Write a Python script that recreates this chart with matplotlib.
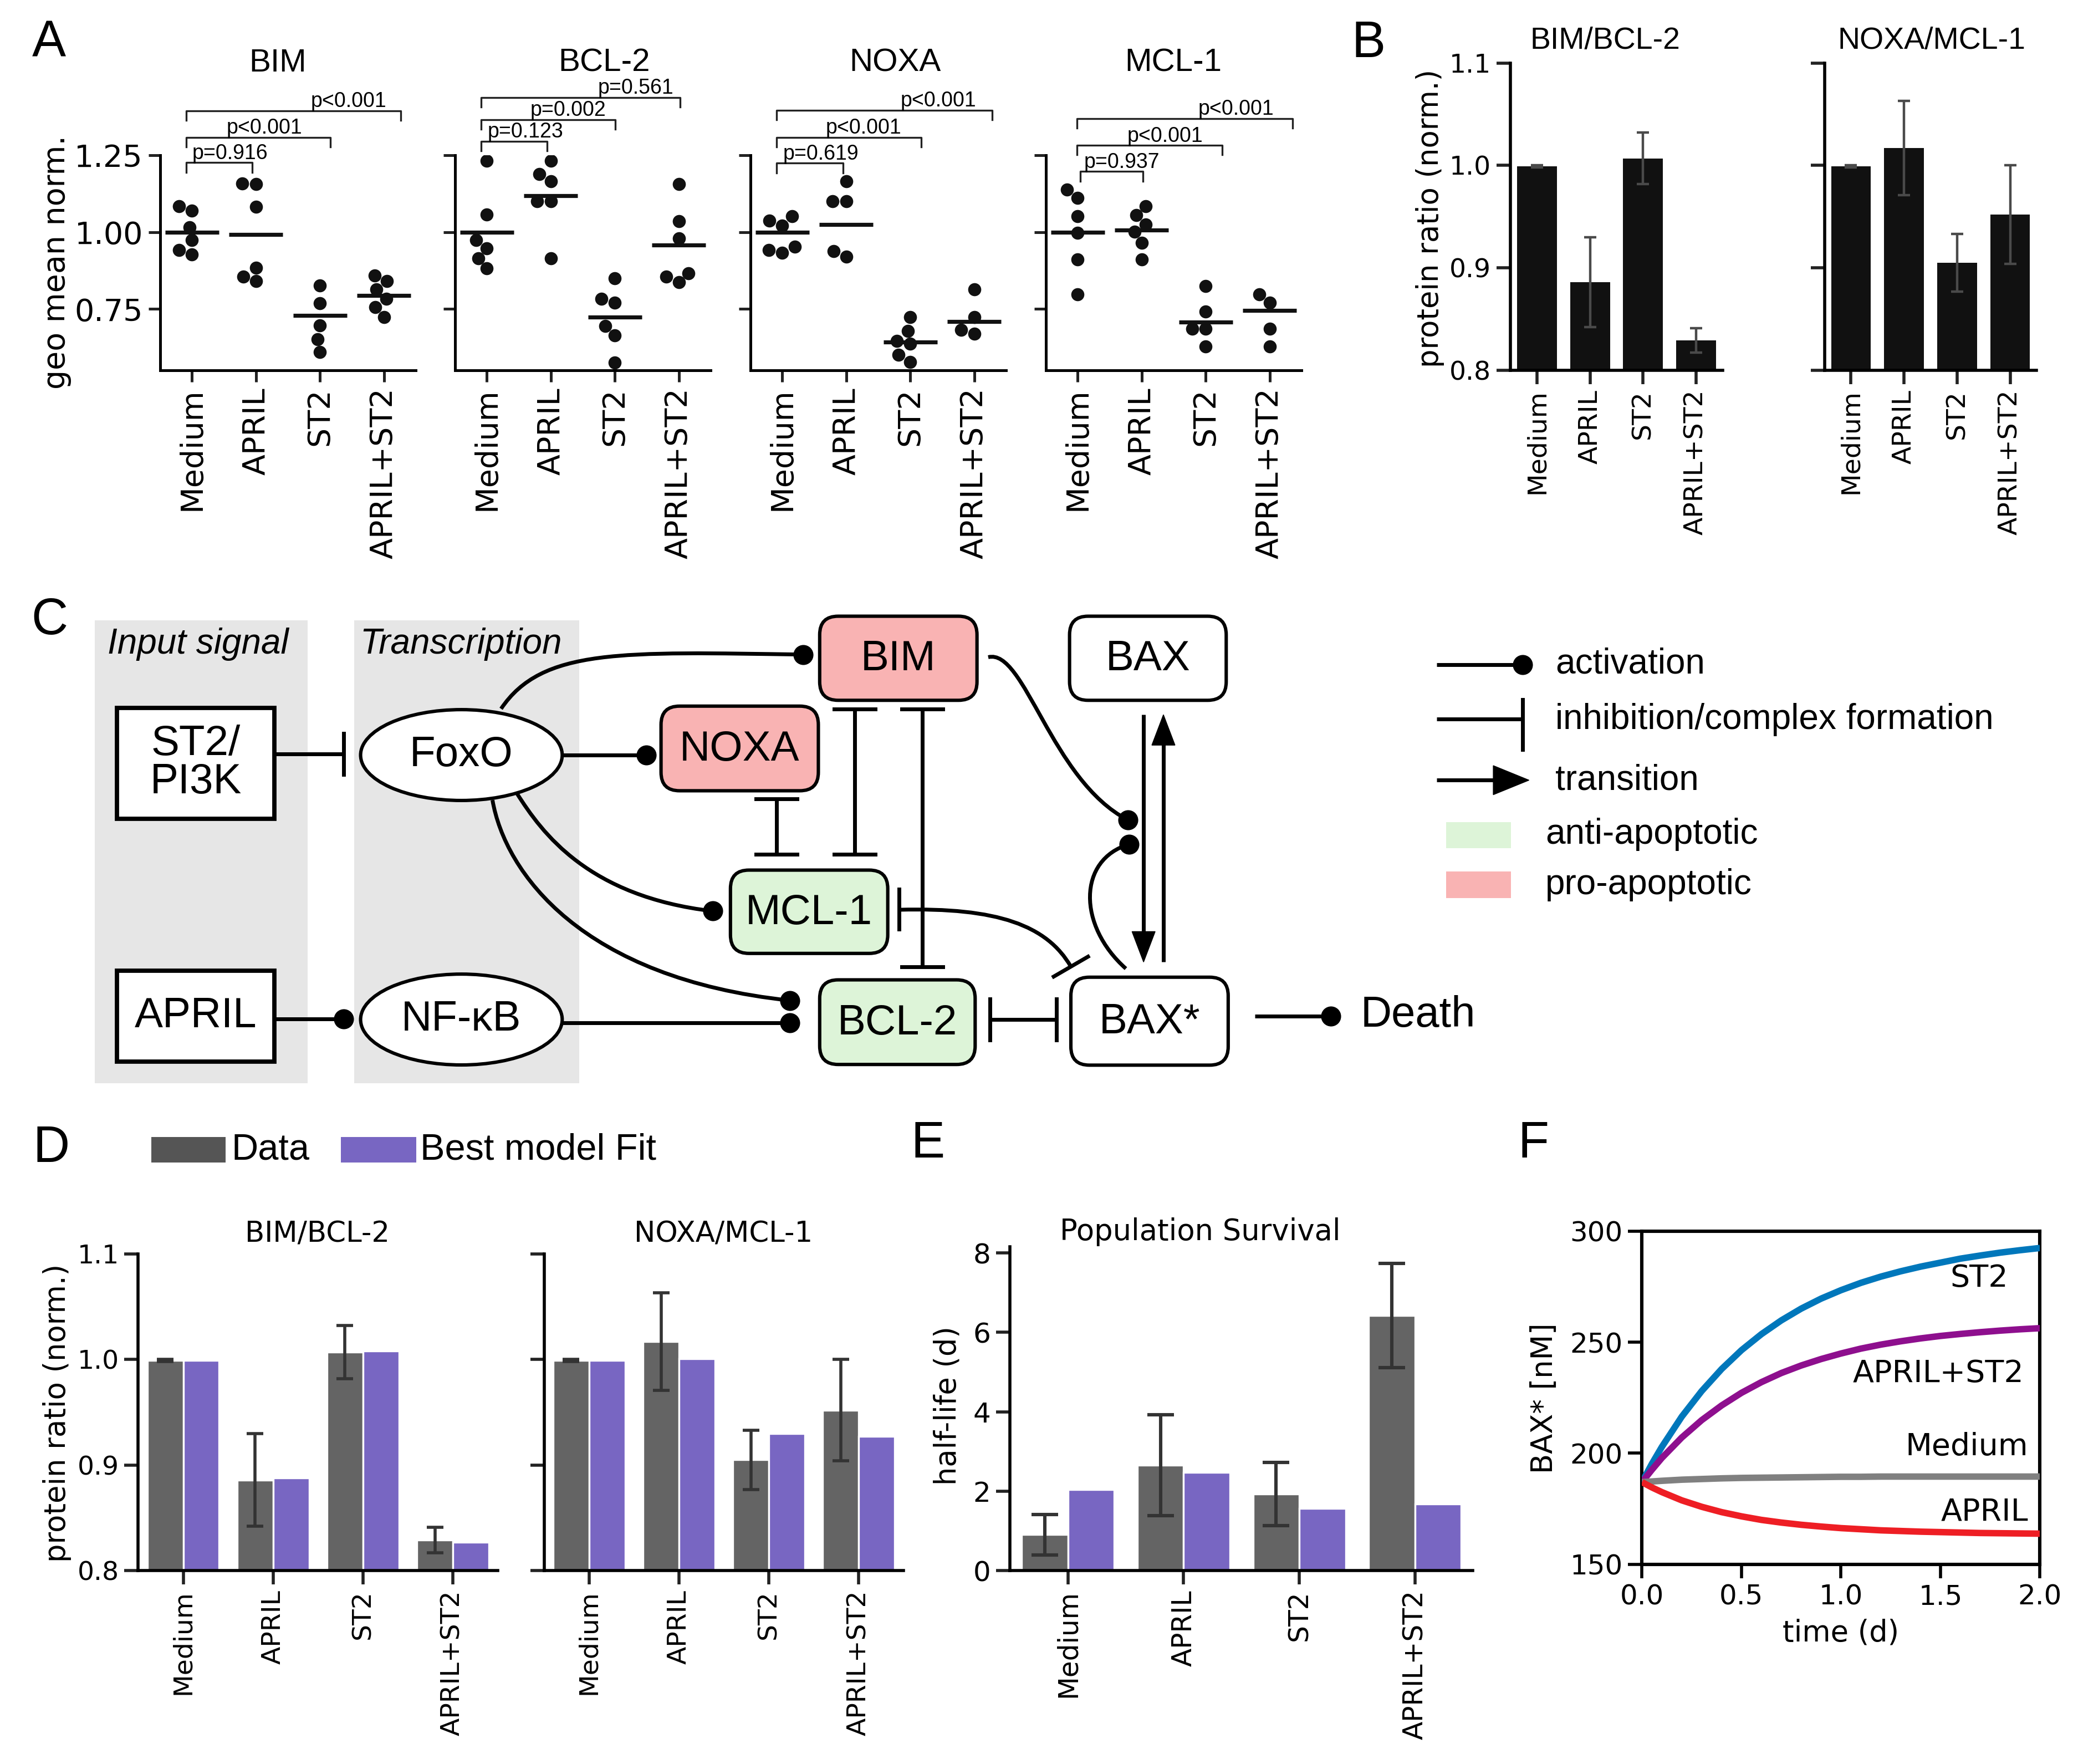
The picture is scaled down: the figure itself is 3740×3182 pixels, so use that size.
import numpy as np
import pandas as pd
import matplotlib
matplotlib.use("Agg")
import matplotlib.pyplot as plt
import seaborn as sns
from matplotlib.patches import Rectangle, FancyBboxPatch, Ellipse, Polygon, PathPatch
from matplotlib.path import Path

plt.rcParams['font.family'] = ['DejaVu Sans']
ARIAL = ['Liberation Sans', 'DejaVu Sans']

# ---------------- data ----------------
conditions = ["Medium", "APRIL", "ST2", "APRIL+ST2"]

# Panel A: geo mean (normalised) per replicate, and the drawn means
bim_points = [[1.085, 1.070, 1.016, 0.974, 0.942, 0.927],
              [1.159, 1.156, 1.083, 0.885, 0.855, 0.840],
              [0.826, 0.768, 0.697, 0.652, 0.610],
              [0.858, 0.840, 0.813, 0.783, 0.757, 0.724]]
bim_means = [1.000, 0.993, 0.730, 0.794]
bcl2_points = [[1.232, 1.058, 0.974, 0.947, 0.915, 0.882],
               [1.232, 1.189, 1.165, 1.100, 1.100, 0.915],
               [0.849, 0.783, 0.771, 0.694, 0.664, 0.575],
               [1.156, 1.035, 0.980, 0.867, 0.855, 0.837]]
bcl2_means = [1.000, 1.118, 0.723, 0.958]
noxa_points = [[1.052, 1.037, 1.022, 0.952, 0.942, 0.933],
               [1.165, 1.100, 1.100, 0.939, 0.921],
               [0.724, 0.679, 0.646, 0.637, 0.601, 0.578],
               [0.813, 0.724, 0.682, 0.670]]
noxa_means = [1.000, 1.025, 0.642, 0.710]
mcl1_points = [[1.138, 1.112, 1.052, 0.998, 0.912, 0.798],
               [1.085, 1.055, 1.025, 1.001, 0.965, 0.912],
               [0.825, 0.742, 0.685, 0.685, 0.628],
               [0.798, 0.770, 0.685, 0.628]]
mcl1_means = [1.000, 1.006, 0.708, 0.746]
a_proteins = ["BIM", "BCL-2", "NOXA", "MCL-1"]
bim_pvals = ["p=0.916", "p<0.001", "p<0.001"]
bcl2_pvals = ["p=0.123", "p=0.002", "p=0.561"]
noxa_pvals = ["p=0.619", "p<0.001", "p<0.001"]
mcl1_pvals = ["p=0.937", "p<0.001", "p<0.001"]

# Panels B / D: protein ratios
ratio_bim_bcl2 = [0.999, 0.886, 1.007, 0.829]
ratio_bim_bcl2_err = [0.001, 0.044, 0.025, 0.012]
ratio_noxa_mcl1 = [0.999, 1.017, 0.905, 0.952]
ratio_noxa_mcl1_err = [0.001, 0.046, 0.028, 0.048]
fit_bim_bcl2 = [0.999, 0.888, 1.008, 0.827]
fit_noxa_mcl1 = [0.999, 1.001, 0.930, 0.927]

# Panel E: population half-life (d)
halflife_data = [0.91, 2.65, 1.93, 6.42]
halflife_err = [0.51, 1.27, 0.79, 1.31]
halflife_fit = [2.04, 2.47, 1.57, 1.68]

# Panel F: BAX* trajectories
time_d = [0.0, 0.05, 0.1, 0.2, 0.3, 0.4, 0.5, 0.6, 0.7, 0.8, 0.9, 1.0,
          1.1, 1.2, 1.3, 1.4, 1.5, 1.6, 1.7, 1.8, 1.9, 2.0]
bax_st2 = [187.0, 195.3, 202.9, 216.5, 228.0, 237.9, 246.4, 253.6, 259.8, 265.1, 269.6, 273.4,
           276.7, 279.5, 281.9, 284.0, 285.8, 287.6, 289.0, 290.3, 291.4, 292.4]
bax_april_st2 = [187.0, 192.6, 197.9, 207.1, 214.9, 221.5, 227.2, 232.0, 236.1, 239.5, 242.4, 244.9,
                 247.1, 248.9, 250.4, 251.7, 252.8, 253.7, 254.5, 255.2, 255.8, 256.3]
bax_medium = [187.0, 187.3, 187.6, 188.1, 188.4, 188.7, 188.9, 189.0, 189.1, 189.2, 189.3, 189.4,
              189.4, 189.5, 189.5, 189.5, 189.5, 189.5, 189.5, 189.5, 189.5, 189.5]
bax_april = [187.0, 184.6, 182.5, 178.8, 175.9, 173.5, 171.6, 170.0, 168.8, 167.8, 167.0, 166.3,
             165.8, 165.3, 165.0, 164.7, 164.5, 164.3, 164.1, 164.0, 163.9, 163.8]

DATA_C = "#646464"
FIT_C = "#7866C2"

# ---------------- figure ----------------
W, H = 1568.0, 1334.0
fig = plt.figure(figsize=(18.7, 15.91), dpi=200)

ov = fig.add_axes([0, 0, 1, 1])
ov.set_xlim(0, W)
ov.set_ylim(H, 0)
ov.axis('off')


def rect(l, t, r, b):
    return [l / W, 1 - b / H, (r - l) / W, (b - t) / H]


def style(ax, lw=1.8, length=7.5, size=17):
    ax.set_facecolor('none')
    for s in ['top', 'right']:
        ax.spines[s].set_visible(False)
    for s in ['left', 'bottom']:
        ax.spines[s].set_linewidth(lw)
    ax.tick_params(direction='out', length=length, width=lw, labelsize=size, color='#222222')


# ---------------- panel A ----------------
a_sets = [(bim_points, bim_means, bim_pvals), (bcl2_points, bcl2_means, bcl2_pvals),
          (noxa_points, noxa_means, noxa_pvals), (mcl1_points, mcl1_means, mcl1_pvals)]
a_lefts = [121, 344, 567.5, 791]
a_title_x = [0.461, 0.584, 0.566, 0.498]
a_brackets = [  # tops, left, rights, text x
    ([1.226, 1.308, 1.395], [-0.09, -0.09, -0.09], [0.94, 2.16, 3.26], [0.00, 0.54, 1.86]),
    ([1.295, 1.366, 1.438], [-0.09, -0.09, -0.09], [0.94, 2.01, 3.02], [0.01, 0.68, 1.74]),
    ([1.224, 1.308, 1.396], [-0.09, -0.09, -0.09], [0.95, 2.17, 3.28], [0.01, 0.68, 1.85]),
    ([1.197, 1.282, 1.369], [0.04, -0.01, -0.01], [1.02, 2.26, 3.36], [0.10, 0.77, 1.88]),
]
for i, (pts, means, pv) in enumerate(a_sets):
    ax = fig.add_axes(rect(a_lefts[i], 117.4, a_lefts[i] + 193.6, 280.2))
    df = pd.DataFrame({'cond': np.repeat(conditions, [len(p) for p in pts]),
                       'val': np.concatenate(pts)})
    sns.swarmplot(data=df, x='cond', y='val', order=conditions, color='#111111',
                  size=8.5, ax=ax, zorder=3)
    xs = np.arange(len(conditions))
    ax.hlines(means, xs - 0.42, xs + 0.42, color='#111111', lw=2.6, zorder=4)
    ax.set_xlim(-0.5, 3.5)
    ax.set_ylim(0.55, 1.25)
    ax.set_xlabel('')
    ax.set_ylabel('')
    style(ax, lw=1.8, length=7.5, size=20)
    ax.set_yticks([0.75, 1.0, 1.25])
    if i == 0:
        ax.set_yticklabels(['0.75', '1.00', '1.25'])
        ax.text(-0.405, 0.502, 'geo mean norm.', rotation=90, ha='center', va='center',
                fontsize=20, transform=ax.transAxes)
    else:
        ax.set_yticklabels([])
    ax.set_xticks(xs)
    ax.set_xticklabels(conditions, rotation=90)
    ax.text(a_title_x[i], 1.428, a_proteins[i], ha='center', va='center', fontsize=21,
            family=ARIAL, transform=ax.transAxes)
    tops, lefts, rights, txs = a_brackets[i]
    for k in range(3):
        t = tops[k]
        ax.plot([lefts[k], lefts[k], rights[k], rights[k]], [t - 0.031, t, t, t - 0.031],
                color='#222222', lw=1.2, clip_on=False)
        ax.text(txs[k], t + 0.012, pv[k], ha='left', va='baseline', fontsize=13.5,
                family=ARIAL, clip_on=False)

# ---------------- panel B ----------------
b_sets = [(ratio_bim_bcl2, ratio_bim_bcl2_err, "BIM/BCL-2", 0.445),
          (ratio_noxa_mcl1, ratio_noxa_mcl1_err, "NOXA/MCL-1", 0.506)]
b_lefts = [1142.5, 1380]
for i, (vals, err, title, tx) in enumerate(b_sets):
    ax = fig.add_axes(rect(b_lefts[i], 47.7, b_lefts[i] + 160.5, 280))
    xs = np.arange(len(conditions))
    ax.bar(xs, vals, width=0.75, color='#111111', zorder=2)
    ax.errorbar(xs, vals, yerr=err, fmt='none', ecolor='#4a4a4a', elinewidth=1.6,
                capsize=4, capthick=1.6, zorder=3)
    ax.set_xlim(-0.5, 3.5)
    ax.set_ylim(0.8, 1.1)
    style(ax, lw=2.0, length=9, size=17)
    ax.set_yticks([0.8, 0.9, 1.0, 1.1])
    if i == 0:
        ax.set_yticklabels(['0.8', '0.9', '1.0', '1.1'])
        ax.text(-0.38, 0.495, 'protein ratio (norm.)', rotation=90, ha='center',
                va='center', fontsize=19, transform=ax.transAxes)
    else:
        ax.set_yticklabels([])
    ax.set_xticks(xs)
    ax.set_xticklabels(conditions, rotation=90)
    ax.text(tx, 1.072, title, ha='center', va='center', fontsize=20, family=ARIAL,
            transform=ax.transAxes)

# ---------------- panel D ----------------
d_sets = [(ratio_bim_bcl2, ratio_bim_bcl2_err, fit_bim_bcl2, "BIM/BCL-2"),
          (ratio_noxa_mcl1, ratio_noxa_mcl1_err, fit_noxa_mcl1, "NOXA/MCL-1")]
d_lefts = [104.6, 411.6]
for i, (vals, err, fit, title) in enumerate(d_sets):
    ax = fig.add_axes(rect(d_lefts[i], 948.3, d_lefts[i] + 271.9, 1187.8))
    xs = np.arange(len(conditions))
    ax.bar(xs - 0.2, vals, width=0.4, color=DATA_C, edgecolor='white', lw=1.2, zorder=2)
    ax.bar(xs + 0.2, fit, width=0.4, color=FIT_C, edgecolor='white', lw=1.2, zorder=2)
    ax.errorbar(xs - 0.2, vals, yerr=err, fmt='none', ecolor='#333333', elinewidth=2.0,
                capsize=5.5, capthick=2.0, zorder=3)
    ax.set_xlim(-0.5, 3.5)
    ax.set_ylim(0.8, 1.1)
    style(ax, lw=2.0, length=9, size=17)
    ax.set_yticks([0.8, 0.9, 1.0, 1.1])
    if i == 0:
        ax.set_yticklabels(['0.8', '0.9', '1.0', '1.1'])
        ax.text(-0.2266, 0.498, 'protein ratio (norm.)', rotation=90, ha='center',
                va='center', fontsize=19, transform=ax.transAxes)
    else:
        ax.set_yticklabels([])
    ax.set_xticks(xs)
    ax.set_xticklabels(conditions, rotation=90)
    ax.text(0.498, 1.062, title, ha='center', va='center', fontsize=18.5,
            transform=ax.transAxes)

# ---------------- panel E ----------------
ax = fig.add_axes(rect(764, 943, 1114, 1187.8))
xs = np.arange(len(conditions))
ax.bar(xs - 0.2, halflife_data, width=0.4, color=DATA_C, edgecolor='white', lw=1.2, zorder=2)
ax.bar(xs + 0.2, halflife_fit, width=0.4, color=FIT_C, edgecolor='white', lw=1.2, zorder=2)
ax.errorbar(xs - 0.2, halflife_data, yerr=halflife_err, fmt='none', ecolor='#333333',
            elinewidth=2.2, capsize=8.5, capthick=2.2, zorder=3)
ax.set_xlim(-0.5, 3.5)
ax.set_ylim(0, 8.15)
style(ax, lw=2.0, length=9, size=18)
ax.set_yticks([0, 2, 4, 6, 8])
ax.set_xticks(xs)
ax.set_xticklabels(conditions, rotation=90, fontsize=17.5)
ax.text(-0.135, 0.51, 'half-life (d)', rotation=90, ha='center', va='center',
        fontsize=19, transform=ax.transAxes)
ax.text(0.411, 1.046, 'Population Survival', ha='center', va='center', fontsize=19,
        transform=ax.transAxes)

# ---------------- panel F ----------------
ax = fig.add_axes(rect(1242, 931, 1543, 1183))
f_series = [(bax_st2, '#0077BB', 'ST2', 1.84, 278.8),
            (bax_april_st2, '#8E0F8E', 'APRIL+ST2', 1.92, 235.7),
            (bax_medium, '#808080', 'Medium', 1.94, 203.0),
            (bax_april, '#EE1E24', 'APRIL', 1.94, 173.5)]
for ys, col, lab, lx, ly in f_series:
    ax.plot(time_d, ys, color=col, lw=4.2, solid_capstyle='butt', solid_joinstyle='round', zorder=3)
for ys, col, lab, lx, ly in f_series:
    ax.text(lx, ly, lab, ha='right', va='center', fontsize=20)
ax.set_xlim(0, 2)
ax.set_ylim(150, 300)
ax.set_facecolor('none')
for s in ax.spines.values():
    s.set_linewidth(2.2)
ax.tick_params(direction='out', length=9, width=2.0, labelsize=18)
ax.set_xticks([0.0, 0.5, 1.0, 1.5, 2.0])
ax.set_yticks([150, 200, 250, 300])
ax.text(0.5, -0.206, 'time (d)', ha='center', va='center', fontsize=19, transform=ax.transAxes)
ax.text(-0.246, 0.499, 'BAX* [nM]', rotation=90, ha='center', va='center', fontsize=19,
        transform=ax.transAxes)

# ---------------- panel C (diagram) ----------------
LW = 2.5
PINK = '#F9B3B3'
GREEN = '#DDF4D8'

ov.add_patch(Rectangle((71.5, 469), 161, 350, fc='#E6E6E6', ec='none', zorder=0))
ov.add_patch(Rectangle((268, 469), 170, 350, fc='#E6E6E6', ec='none', zorder=0))
ov.text(150, 487, 'Input signal', ha='center', va='center', fontsize=23, style='italic', family=ARIAL)
ov.text(348.5, 487, 'Transcription', ha='center', va='center', fontsize=23, style='italic', family=ARIAL)


def sqbox(l, t, r, b, label, **kw):
    ov.add_patch(Rectangle((l, t), r - l, b - t, fc='white', ec='k', lw=2.8, zorder=2))
    ov.text((l + r) / 2, (t + b) / 2, label, ha='center', va='center', fontsize=27.5,
            family=ARIAL, zorder=3, **kw)


def rbox(l, t, r, b, label, fc):
    ov.add_patch(FancyBboxPatch((l, t), r - l, b - t, boxstyle='round,pad=0,rounding_size=14',
                                fc=fc, ec='k', lw=2.2, zorder=2))
    ov.text((l + r) / 2, (t + b) / 2 + 1, label, ha='center', va='center', fontsize=27.5,
            family=ARIAL, zorder=3)


def ell(cx, cy, w, h, label):
    ov.add_patch(Ellipse((cx, cy), w, h, fc='white', ec='k', lw=2.2, zorder=2))
    ov.text(cx, cy, label, ha='center', va='center', fontsize=27.5, family=ARIAL, zorder=3)


def seg(xs, ys):
    ov.plot(xs, ys, color='k', lw=LW, solid_capstyle='butt', zorder=1)


def dot(x, y):
    ov.plot([x], [y], 'o', color='k', ms=12, zorder=4)


def bar_v(x, y, half=15.5):
    ov.plot([x, x], [y - half, y + half], color='k', lw=LW, zorder=4)


def bar_h(x, y, half=15.5):
    ov.plot([x - half, x + half], [y, y], color='k', lw=LW, zorder=4)


def curve(p0, p1, p2, p3):
    path = Path([p0, p1, p2, p3], [Path.MOVETO, Path.CURVE4, Path.CURVE4, Path.CURVE4])
    ov.add_patch(PathPatch(path, fc='none', ec='k', lw=LW, zorder=1))


def arrow_head(tip, direction, length=23, half=8.75):
    dx, dy = direction
    tx, ty = tip
    bx, by = tx - dx * length, ty - dy * length
    px, py = -dy, dx
    ov.add_patch(Polygon([(tx, ty), (bx + px * half, by + py * half), (bx - px * half, by - py * half)],
                         closed=True, fc='k', ec='k', lw=0.5, zorder=4))


sqbox(88.5, 535.5, 207.5, 619, 'ST2/\nPI3K', linespacing=0.95)
sqbox(88.5, 734, 207.5, 803, 'APRIL')
ell(349, 571, 152.5, 68.7, 'FoxO')
ell(349, 771, 152.5, 68.7, 'NF-\u03baB')
rbox(620, 466, 739, 529.6, 'BIM', PINK)
rbox(500, 534, 619, 598, 'NOXA', PINK)
rbox(552.5, 658, 671.5, 721, 'MCL-1', GREEN)
rbox(620, 741, 737.6, 805, 'BCL-2', GREEN)
rbox(809, 466, 927.5, 529.6, 'BAX', 'white')
rbox(810, 739, 929, 805.5, 'BAX*', 'white')

# ST2/PI3K -| FoxO
seg([207.5, 260], [570, 570]); bar_v(260, 570)
# APRIL -> NF-kB
seg([207.5, 260], [770.6, 770.6]); dot(260, 770.6)
# FoxO -> NOXA
seg([425.3, 489], [571, 571]); dot(489, 571)
# FoxO -> BIM
curve((379, 536), (410, 490), (470, 493), (607.5, 495)); dot(607.5, 495)
# FoxO -> MCL-1
curve((391, 600), (410, 630), (445, 678), (539, 689)); dot(539, 689)
# FoxO -> BCL-2
curve((372.5, 605), (382, 660), (440, 740), (597.6, 756.6)); dot(597.6, 756.6)
# NF-kB -> BCL-2
seg([425.3, 597.6], [773.3, 773.3]); dot(597.6, 773.3)
# NOXA -| MCL-1
seg([587.5, 587.5], [604, 646]); bar_h(587.5, 604); bar_h(587.5, 646)
# BIM -| MCL-1
seg([646.5, 646.5], [536.3, 646]); bar_h(646.5, 536.3); bar_h(646.5, 646)
# BIM -| BCL-2
seg([697.6, 697.6], [536.3, 731.3]); bar_h(697.6, 536.3); bar_h(697.6, 731.3)
# MCL-1 -| BAX*
p2, p3 = np.array([792.0, 700.0]), np.array([810.0, 731.0])
curve((680, 688), (755, 686), tuple(p2), tuple(p3))
bar_v(680, 687.5, half=15)
tan = (p3 - p2) / np.linalg.norm(p3 - p2)
perp = np.array([-tan[1], tan[0]])
ov.plot([p3[0] - perp[0] * 15, p3[0] + perp[0] * 15], [p3[1] - perp[1] * 15, p3[1] + perp[1] * 15],
        color='k', lw=LW, zorder=4)
# BCL-2 -| BAX*
seg([748.6, 799], [771, 771]); bar_v(748.6, 771); bar_v(799, 771)
# BIM -> BAX activation
curve((747.5, 497), (775, 490), (795, 590), (853, 620)); dot(853, 620)
# BAX* auto-activation
curve((851.6, 732.5), (815, 700), (815, 650), (854, 638.5)); dot(854, 638.5)
# BAX <-> BAX* transitions
seg([865, 865], [540.5, 706]); arrow_head((865, 727.5), (0, 1))
seg([880, 880], [727.5, 562]); arrow_head((880, 540.5), (0, -1))
# BAX* -> Death
seg([949, 1006.6], [768.6, 768.6]); dot(1006.6, 768.6)
ov.text(1029, 768, 'Death', ha='left', va='center', fontsize=28, family=ARIAL)

# legend of diagram
seg([1086.6, 1151.6], [502.5, 502.5]); dot(1151.6, 502.5)
ov.text(1176.6, 502, 'activation', ha='left', va='center', fontsize=23, family=ARIAL)
seg([1086.6, 1151.5], [543.8, 543.8]); bar_v(1151.5, 548, half=19)
ov.text(1176.6, 544, 'inhibition/complex formation', ha='left', va='center', fontsize=23, family=ARIAL)
seg([1086.6, 1132], [590, 590]); arrow_head((1156.5, 590), (1, 0), length=27, half=11)
ov.text(1176.6, 590, 'transition', ha='left', va='center', fontsize=23, family=ARIAL)
ov.add_patch(Rectangle((1094, 621.8), 49, 19.7, fc=GREEN, ec='none'))
ov.text(1169, 631, 'anti-apoptotic', ha='left', va='center', fontsize=23, family=ARIAL)
ov.add_patch(Rectangle((1094, 659), 49, 20, fc=PINK, ec='none'))
ov.text(1169, 669, 'pro-apoptotic', ha='left', va='center', fontsize=23, family=ARIAL)

# D legend
ov.add_patch(Rectangle((114.6, 860), 55.9, 19, fc='#555555', ec='none'))
ov.text(175, 869.5, 'Data', ha='left', va='center', fontsize=24, family=ARIAL)
ov.add_patch(Rectangle((258, 860), 56.7, 19, fc=FIT_C, ec='none'))
ov.text(318, 869.5, 'Best model Fit', ha='left', va='center', fontsize=24, family=ARIAL)

# panel letters
for lab, x, y in [('A', 37, 33), ('B', 1035, 33), ('C', 37.5, 469.5), ('D', 38.6, 868.6),
                  ('E', 702, 865.5), ('F', 1160, 865.5)]:
    ov.text(x, y, lab, ha='center', va='center', fontsize=33, family=ARIAL)

fig.savefig('out.png', dpi=200)
